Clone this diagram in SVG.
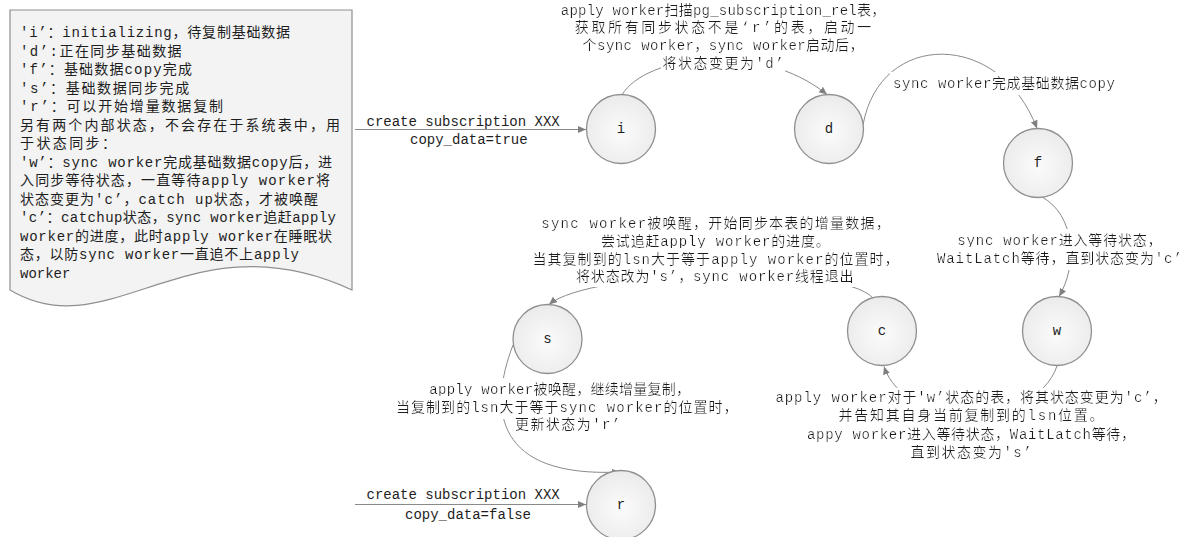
<svg xmlns="http://www.w3.org/2000/svg" width="1184" height="537" viewBox="0 0 1184 537">
<style>
text{font-family:"Liberation Mono","Noto Sans CJK SC",monospace;font-size:14px;fill:#1e1e1e}
.lb{filter:url(#bg)}
.node circle{fill:url(#cg);stroke:#8f8f8f;stroke-width:1.3}
.node text{text-anchor:middle}
.cn{fill:none;stroke:#8a8a8a;stroke-width:1;marker-end:url(#ah)}
</style>
<defs>
<radialGradient id="cg" cx="0.5" cy="0.55" r="0.55"><stop offset="0" stop-color="#fbfbfb"/><stop offset="1" stop-color="#ebebeb"/></radialGradient>
<filter id="bg" x="-0.01" y="-0.12" width="1.02" height="1.24"><feFlood flood-color="#ffffff"/><feComposite in="SourceGraphic" operator="over"/></filter>
<marker id="ah" markerWidth="10" markerHeight="8" refX="8" refY="3.5" orient="auto" markerUnits="userSpaceOnUse"><path d="M0,0 L8,3.5 L0,7 z" fill="#808080"/></marker>
</defs>
<rect width="1184" height="537" fill="#ffffff"/>

<g id="note">
<path d="M10,10 L352,10 L352,290 C190,215 110,350 10,290 Z" fill="#f3f3f3" stroke="#8f8f8f" stroke-width="1.2"/>
<text x="20" y="37" textLength="270" lengthAdjust="spacing">'i’：initializing，待复制基础数据</text>
<text x="20" y="55.5" textLength="161.6" lengthAdjust="spacing">'d’:正在同步基础数据</text>
<text x="20" y="74" textLength="172" lengthAdjust="spacing">'f’：基础数据copy完成</text>
<text x="20" y="92.5" textLength="169.2" lengthAdjust="spacing">'s’：基础数据同步完成</text>
<text x="20" y="111" textLength="203" lengthAdjust="spacing">'r’：可以开始增量数据复制</text>
<text x="20" y="129.5" textLength="320" lengthAdjust="spacing">另有两个内部状态，不会存在于系统表中，用</text>
<text x="20" y="148" textLength="96" lengthAdjust="spacing">于状态同步：</text>
<text x="20" y="166.5" textLength="312" lengthAdjust="spacing">'w’：sync worker完成基础数据copy后，进</text>
<text x="20" y="185" textLength="310" lengthAdjust="spacing">入同步等待状态，一直等待apply worker将</text>
<text x="20" y="203.5" textLength="298" lengthAdjust="spacing">状态变更为'c’，catch up状态，才被唤醒</text>
<text x="20" y="222" textLength="316" lengthAdjust="spacing">'c’：catchup状态，sync worker追赶apply</text>
<text x="20" y="240.5" textLength="312" lengthAdjust="spacing">worker的进度，此时apply worker在睡眠状</text>
<text x="20" y="259" textLength="279" lengthAdjust="spacing">态，以防sync worker一直追不上apply</text>
<text x="20" y="277.5">worker</text>
</g>

<g id="connectors">
<path class="cn" d="M355,129.5 L586,129.5"/>
<path class="cn" d="M622,95 C645,55 760,40 827,94.5"/>
<path class="cn" d="M863,125 C880,30 1000,30 1037,128.5"/>
<path class="cn" d="M1042,197 C1075,215 1078,265 1059,296.5"/>
<path class="cn" d="M1057,366 C1035,430 905,430 884,366.5"/>
<path class="cn" d="M873,298 C840,262 590,270 549,304.5"/>
<path class="cn" d="M513,345 C488,410 495,478 620,472"/>
<path class="cn" d="M355,504.5 L586,504.5"/>

<text x="366.5" y="126">create subscription XXX</text>
<text x="410" y="144">copy_data=true</text>

<text class="lb" x="560.8" y="14.5" textLength="324.4" lengthAdjust="spacing">apply worker扫描pg_subscription_rel表，</text>
<text class="lb" x="574.8" y="32" textLength="296.4" lengthAdjust="spacing">获取所有同步状态不是‘r’的表，启动一</text>
<text class="lb" x="582.6" y="50" textLength="280.8" lengthAdjust="spacing">个sync worker，sync worker启动后，</text>
<text class="lb" x="662.4" y="68" textLength="121.2" lengthAdjust="spacing">将状态变更为'd’</text>

<text class="lb" x="893" y="88" textLength="222" lengthAdjust="spacing">sync worker完成基础数据copy</text>

<text class="lb" x="957.2" y="245" textLength="204.4" lengthAdjust="spacing">sync worker进入等待状态，</text>
<text class="lb" x="937" y="263" textLength="244.8" lengthAdjust="spacing">WaitLatch等待，直到状态变为'c’</text>

<text class="lb" x="541.3" y="228" textLength="348.4" lengthAdjust="spacing">sync worker被唤醒，开始同步本表的增量数据，</text>
<text class="lb" x="601" y="246" textLength="228.8" lengthAdjust="spacing">尝试追赶apply worker的进度。</text>
<text class="lb" x="532.5" y="263.5" textLength="366" lengthAdjust="spacing">当其复制到的lsn大于等于apply worker的位置时，</text>
<text class="lb" x="576" y="281" textLength="277.6" lengthAdjust="spacing">将状态改为's’，sync worker线程退出</text>

<text class="lb" x="775.4" y="402" textLength="391.2" lengthAdjust="spacing">apply worker对于'w’状态的表，将其状态变更为'c’，</text>
<text class="lb" x="838.4" y="420" textLength="265.2" lengthAdjust="spacing">并告知其自身当前复制到的lsn位置。</text>
<text class="lb" x="807" y="438.5" textLength="328" lengthAdjust="spacing">appy worker进入等待状态，WaitLatch等待，</text>
<text class="lb" x="910.4" y="457" textLength="121.2" lengthAdjust="spacing">直到状态变为's’</text>

<text class="lb" x="429.3" y="394" textLength="260.8" lengthAdjust="spacing">apply worker被唤醒，继续增量复制，</text>
<text class="lb" x="396" y="412" textLength="341.6" lengthAdjust="spacing">当复制到的lsn大于等于sync worker的位置时，</text>
<text class="lb" x="515" y="429" textLength="105.2" lengthAdjust="spacing">更新状态为'r’</text>

<text x="366.5" y="499">create subscription XXX</text>
<text x="405" y="519">copy_data=false</text>
</g>

<g id="node-i" class="node"><circle cx="621" cy="129" r="34.5"/><text x="621" y="133">i</text></g>
<g id="node-d" class="node"><circle cx="829" cy="129" r="34.5"/><text x="829" y="133">d</text></g>
<g id="node-f" class="node"><circle cx="1038" cy="163" r="34.5"/><text x="1038" y="167">f</text></g>
<g id="node-w" class="node"><circle cx="1057" cy="331" r="34.5"/><text x="1057" y="335">w</text></g>
<g id="node-c" class="node"><circle cx="882" cy="331" r="34.5"/><text x="882" y="335">c</text></g>
<g id="node-s" class="node"><circle cx="547.5" cy="339" r="34.5"/><text x="547.5" y="343">s</text></g>
<g id="node-r" class="node"><circle cx="621" cy="505" r="34.5"/><text x="621" y="509">r</text></g>
</svg>
